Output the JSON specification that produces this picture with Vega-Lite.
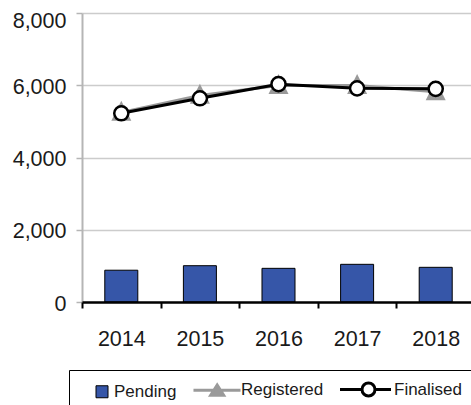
{
  "$schema": "https://vega.github.io/schema/vega-lite/v6.json",
  "width": 393,
  "height": 289,
  "autosize": "none",
  "padding": {"left": 82, "top": 13, "right": 0, "bottom": 103},
  "background": "#ffffff",
  "data": {
    "values": [
      {"year": "2014", "series": "Pending", "value": 880},
      {"year": "2015", "series": "Pending", "value": 1005},
      {"year": "2016", "series": "Pending", "value": 932},
      {"year": "2017", "series": "Pending", "value": 1043},
      {"year": "2018", "series": "Pending", "value": 960},
      {"year": "2014", "series": "Registered", "value": 5250},
      {"year": "2015", "series": "Registered", "value": 5720},
      {"year": "2016", "series": "Registered", "value": 5990},
      {"year": "2017", "series": "Registered", "value": 5990},
      {"year": "2018", "series": "Registered", "value": 5820},
      {"year": "2014", "series": "Finalised", "value": 5224},
      {"year": "2015", "series": "Finalised", "value": 5639},
      {"year": "2016", "series": "Finalised", "value": 6030},
      {"year": "2017", "series": "Finalised", "value": 5915},
      {"year": "2018", "series": "Finalised", "value": 5900}
    ]
  },
  "encoding": {
    "x": {
      "field": "year",
      "type": "ordinal",
      "scale": {"paddingInner": 0, "paddingOuter": 0},
      "axis": {
        "title": null,
        "labelAngle": 0,
        "tickBand": "extent",
        "domainColor": "#000000",
        "domainWidth": 2.5,
        "tickColor": "#000000",
        "tickWidth": 2,
        "tickSize": 6,
        "labelFontSize": 21.5,
        "labelPadding": 20,
        "labelColor": "#1a1a1a",
        "zindex": 1
      }
    },
    "y": {
      "field": "value",
      "type": "quantitative",
      "scale": {"domain": [0, 8000], "nice": false},
      "axis": {
        "title": null,
        "values": [0, 2000, 4000, 6000, 8000],
        "format": ",.0f",
        "domainColor": "#b5b5b5",
        "domainWidth": 2,
        "tickColor": "#b5b5b5",
        "tickWidth": 1.5,
        "tickSize": 6,
        "gridColor": "#cccccc",
        "gridWidth": 1.5,
        "labelFontSize": 21.5,
        "labelPadding": 10,
        "labelColor": "#1a1a1a",
        "labelBaseline": "middle",
        "labelOffset": {"expr": "datum.value === 8000 ? 8 : 2"},
        "zindex": 0
      }
    }
  },
  "layer": [
    {
      "transform": [{"filter": "datum.series === 'Pending'"}],
      "mark": {"type": "bar", "width": {"band": 0.42}},
      "encoding": {
        "color": {
          "field": "series",
          "type": "nominal",
          "scale": {"domain": ["Pending", "Registered", "Finalised"], "range": ["#3656a8", "#9a9a9a", "#ffffff"]},
          "legend": {
            "orient": "none",
            "legendX": -13,
            "legendY": 357,
            "direction": "horizontal",
            "title": null,
            "strokeColor": "#000000",
            "padding": 11,
            "labelFontSize": 17,
            "labelColor": "#1a1a1a",
            "labelOffset": 17,
            "symbolSize": 144,
            "columnPadding": 10,
            "symbolOpacity": 1,
            "symbolType": {"expr": "datum.value === 'Pending' ? 'M1.25,-1H3.25V1H1.25Z' : datum.value === 'Registered' ? 'M-3.67,0H4.17M0.28,-0.9L1.36,0.8L-0.8,0.8Z' : 'M-4.75,0H-1.08M1.08,0H3.75M1.08,0A1.08,1.08 0 1,1 -1.08,0A1.08,1.08 0 1,1 1.08,0Z'"},
            "symbolStrokeColor": {"expr": "datum.value === 'Registered' ? '#9a9a9a' : '#000000'"},
            "symbolStrokeWidth": {"expr": "datum.value === 'Pending' ? 1 : 3"}
          }
        }
      }
    },
    {
      "transform": [{"filter": "datum.series === 'Pending'"}],
      "mark": {"type": "bar", "width": {"band": 0.42}, "fillOpacity": 0, "stroke": "#000000", "strokeWidth": 1}
    },
    {
      "transform": [{"filter": "datum.series === 'Registered'"}],
      "mark": {"type": "line", "color": "#9a9a9a", "strokeWidth": 3}
    },
    {
      "transform": [{"filter": "datum.series === 'Registered'"}],
      "mark": {"type": "point", "shape": "M0,-1.15L-1,0.85L1,0.85Z", "filled": true, "color": "#9a9a9a", "size": 400, "opacity": 1}
    },
    {
      "transform": [{"filter": "datum.series === 'Finalised'"}],
      "mark": {"type": "line", "color": "#000000", "strokeWidth": 3}
    },
    {
      "transform": [{"filter": "datum.series === 'Finalised'"}],
      "mark": {"type": "point", "shape": "circle", "filled": true, "fill": "#ffffff", "stroke": "#000000", "strokeWidth": 2.5, "size": 200, "opacity": 1}
    }
  ],
  "config": {
    "font": "Liberation Sans",
    "view": {"stroke": null}
  }
}
